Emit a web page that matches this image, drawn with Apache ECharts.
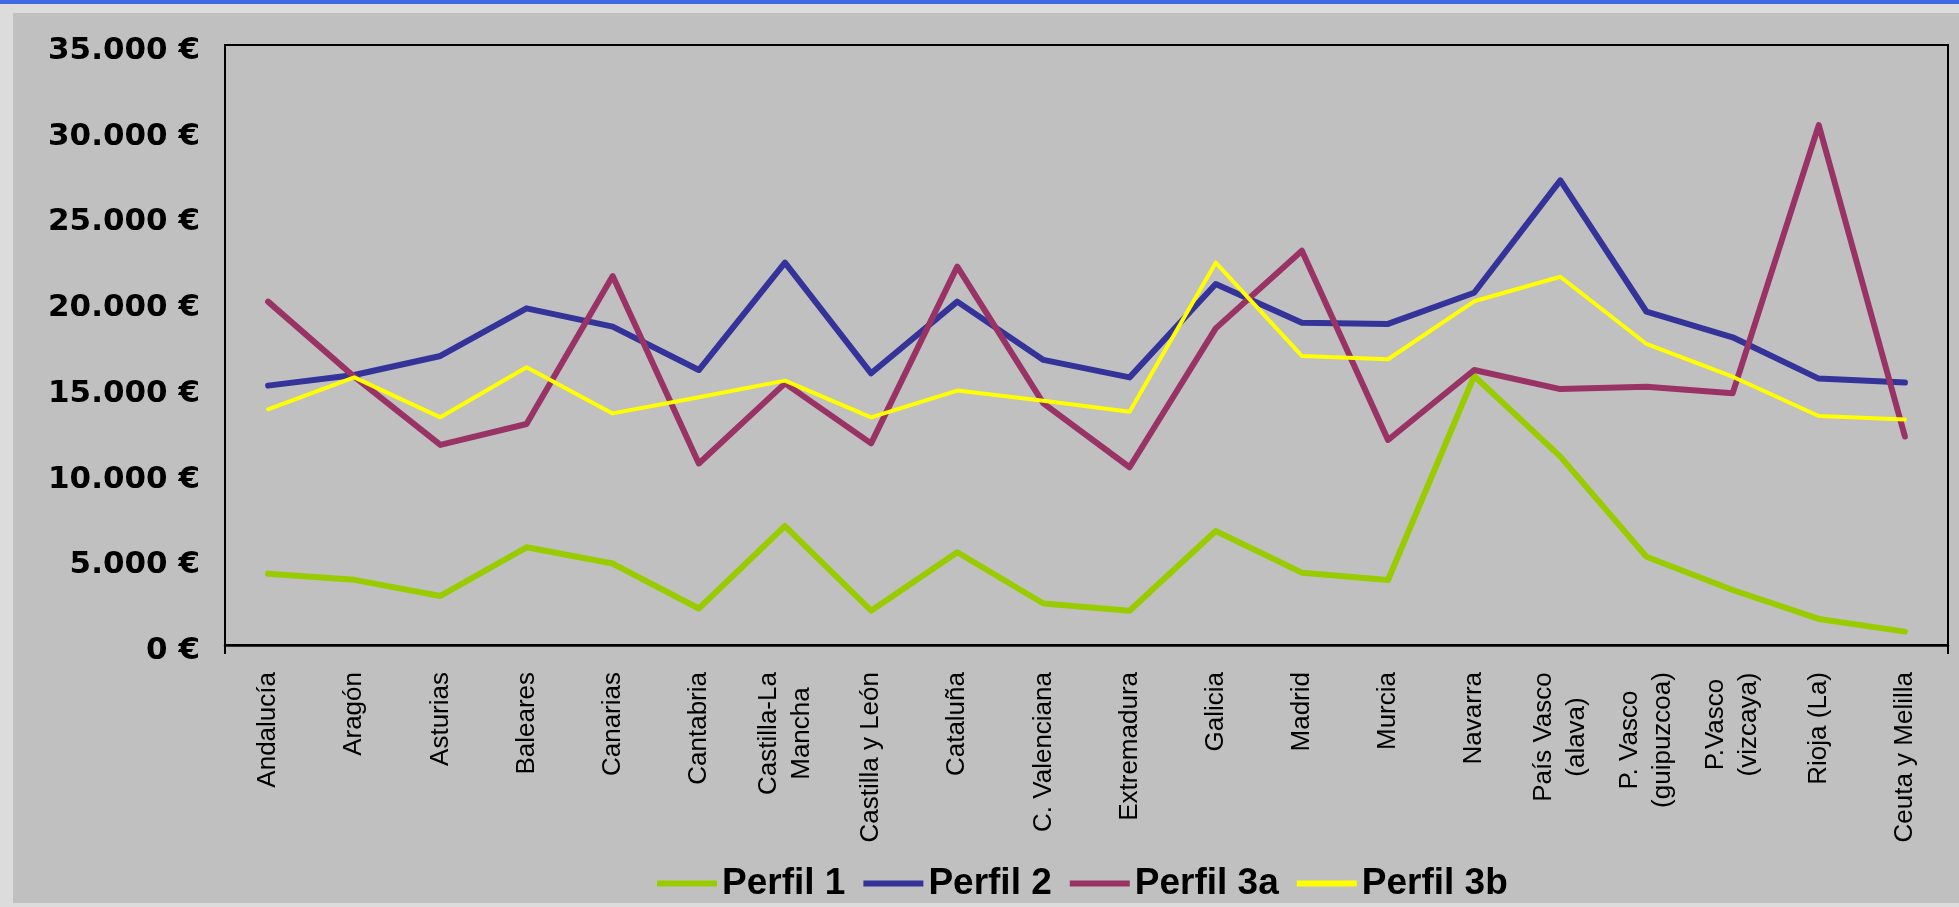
<!DOCTYPE html>
<html>
<head>
<meta charset="utf-8">
<script src="https://cdn.jsdelivr.net/npm/echarts@6/dist/echarts.min.js"></script>
<style>
  html, body { margin: 0; padding: 0; width: 1959px; height: 907px; overflow: hidden; background: #dcdcdc; }
  #topbar { position: absolute; left: 0; top: 0; width: 1959px; height: 4px; background: #4169e1; }
  #panel { position: absolute; left: 13px; top: 13px; width: 1946px; height: 890px; background: #c0c0c0; }
  #chart { position: absolute; left: 0; top: 0; width: 1959px; height: 907px; }
</style>
</head>
<body>
<div id="topbar"></div>
<div id="panel"></div>
<div id="chart"></div>
<script>
const categories = ["Andalucía", "Aragón", "Asturias", "Baleares", "Canarias", "Cantabria",
  "Castilla-La\nMancha", "Castilla y León", "Cataluña", "C. Valenciana", "Extremadura", "Galicia",
  "Madrid", "Murcia", "Navarra", "País Vasco\n(alava)", "P. Vasco\n(guipuzcoa)", "P.Vasco\n(vizcaya)",
  "Rioja (La)", "Ceuta y Melilla"];

const perfil1  = [4150, 3800, 2860, 5700, 4750, 2130, 6940, 2000, 5410, 2420, 2000, 6650, 4220, 3790, 15690, 10990, 5150, 3210, 1520, 780];
const perfil2  = [15130, 15750, 16860, 19640, 18570, 16040, 22300, 15850, 20030, 16630, 15610, 21060, 18800, 18730, 20550, 27100, 19440, 17950, 15540, 15310];
const perfil3a = [20030, 15650, 11670, 12890, 21520, 10590, 15260, 11760, 22070, 14100, 10370, 18470, 23000, 11960, 16040, 14930, 15070, 14680, 30330, 12160];
const perfil3b = [13750, 15610, 13280, 16200, 13510, 14450, 15420, 13280, 14840, 14250, 13610, 22300, 16860, 16670, 20050, 21480, 17560, 15650, 13360, 13150];

const seriesNames = ["Perfil 1", "Perfil 2", "Perfil 3a", "Perfil 3b"];
const seriesColors = ["#99cc00", "#333399", "#993366", "#ffff00"];
const seriesData = [perfil1, perfil2, perfil3a, perfil3b];
const seriesWidths = [6, 6, 6, 4];

function euro(v) {
  const s = String(Math.round(v)).replace(/\B(?=(\d{3})+(?!\d))/g, ".");
  return s + " €";
}

// Multi-line category labels: centre the lines inside their block (as in the original)
const LABEL_FONT = '26px "Liberation Sans"';
const measureCtx = document.createElement('canvas').getContext('2d');
measureCtx.font = LABEL_FONT;
const richStyles = {};
categories.forEach(function (c, i) {
  if (c.indexOf('\n') >= 0) {
    const w = Math.max.apply(null, c.split('\n').map(function (l) { return measureCtx.measureText(l).width; }));
    richStyles['c' + i] = { width: Math.ceil(w), align: 'center', fontFamily: 'Liberation Sans', fontSize: 26, color: '#000', lineHeight: 33 };
  }
});
function catLabel(value, index) {
  if (value.indexOf('\n') < 0) return value;
  return value.split('\n').map(function (l) { return '{c' + index + '|' + l + '}'; }).join('\n');
}

const chart = echarts.init(document.getElementById('chart'), null, { renderer: 'canvas' });
chart.setOption({
  backgroundColor: 'transparent',
  animation: false,
  grid: {
    left: 225, right: 11, top: 45, bottom: 262,
    show: true, borderColor: '#000', borderWidth: 2, backgroundColor: 'transparent'
  },
  legend: {
    left: 652, top: 860,
    icon: 'rect',
    itemWidth: 60, itemHeight: 6, itemGap: 18,
    data: seriesNames,
    textStyle: { fontFamily: 'Liberation Sans', fontWeight: 'bold', fontSize: 37, color: '#000' }
  },
  xAxis: {
    type: 'category',
    data: categories,
    boundaryGap: true,
    axisLine: { lineStyle: { color: '#000', width: 2.5 } },
    axisTick: { show: true, interval: function (i) { return i === 0; }, length: 9, lineStyle: { color: '#000', width: 2 } },
    axisLabel: {
      interval: 0, rotate: 90, margin: 27,
      fontFamily: 'Liberation Sans', fontSize: 26, color: '#000', lineHeight: 33,
      formatter: catLabel,
      rich: richStyles
    },
    splitLine: { show: false }
  },
  yAxis: {
    type: 'value',
    min: 0, max: 35000, interval: 5000,
    axisLine: { show: true, lineStyle: { color: '#000', width: 2 } },
    axisTick: { show: false },
    splitLine: { show: false },
    axisLabel: {
      formatter: euro, margin: 25,
      fontFamily: 'DejaVu Sans', fontWeight: 'bold', fontSize: 31, color: '#000',
      verticalAlign: 'top', lineHeight: 12
    }
  },
  series: seriesNames.map(function (name, k) {
    return {
      name: name,
      type: 'line',
      data: seriesData[k],
      symbol: 'none',
      color: seriesColors[k],
      lineStyle: { color: seriesColors[k], width: seriesWidths[k], cap: 'round', join: 'round' }
    };
  })
});
</script>
</body>
</html>
